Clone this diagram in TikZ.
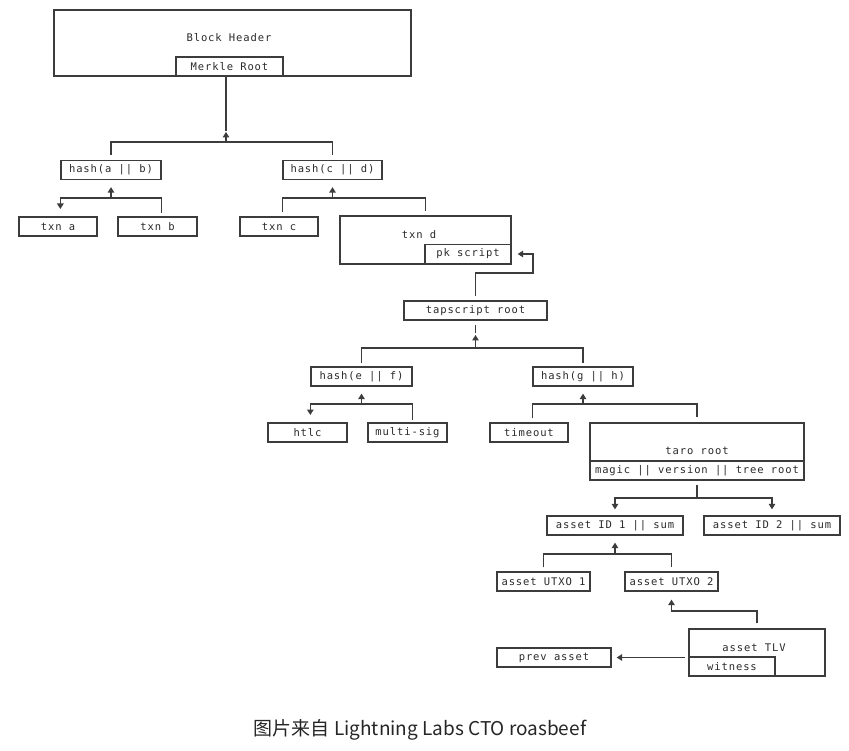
\documentclass[tikz,border=0pt]{standalone}
\usepackage{fontspec}
\usetikzlibrary{arrows.meta}
\newfontfamily\monofont[LetterSpace=8.5]{DejaVu Sans Mono}
\newfontfamily\cjkfont{Noto Sans CJK SC}
\definecolor{ink}{HTML}{2A2A2A}
\definecolor{wire}{HTML}{3C3C3C}
\tikzset{
  box/.style={draw=wire, line width=1.3pt, inner sep=0pt, minimum height=19pt,
    font=\fontsize{10.5}{12}\selectfont\monofont, text=ink},
  lbl/.style={inner sep=0pt, font=\fontsize{10.5}{12}\selectfont\monofont, text=ink},
  link/.style={draw=wire, line width=1.3pt},
  arr/.style={link, -{Triangle[width=6.5pt,length=5.5pt]}},
}
\begin{document}
\begin{tikzpicture}[x=1pt,y=-1pt]
  \fill[white] (0,0) rectangle (849,751);
  \useasboundingbox (0,0) rectangle (849,751);

  % boxes with a caption inside
  \node[box, minimum width=357pt, minimum height=66pt] (header) at (232.5,43) {};
  \node[lbl] (headerlbl) at (229,38) {Block Header};
  \node[box, minimum width=107pt] (merkle) at (229.5,66.5) {Merkle Root};
  \node[box, minimum width=171pt, minimum height=48pt] (txnd) at (425.5,240) {};
  \node[lbl] (txndlbl) at (419,235) {txn d};
  \node[box, minimum width=86pt] (pkscript) at (468,254) {pk script};
  \node[box, minimum width=214pt, minimum height=57pt] (taro) at (697,451.5) {};
  \node[lbl] (tarolbl) at (697,451) {taro root};
  \node[box, minimum width=214pt] (tarofields) at (697,470.5) {magic || version || tree root};
  \node[box, minimum width=136pt, minimum height=47pt] (tlv) at (757,652.5) {};
  \node[lbl] (tlvlbl) at (754,648) {asset TLV};
  \node[box, minimum width=86pt] (witness) at (732,666.5) {witness};

  % plain boxes
  \foreach \name/\x/\y/\w/\txt in {
    hashab/111/170/100/{hash(a || b)},
    hashcd/332.5/170/99/{hash(c || d)},
    txna/58/226.5/78/{txn a},
    txnb/157.5/226.5/79/{txn b},
    txnc/279/226.5/78/{txn c},
    tapscript/475.5/310.5/143/{tapscript root},
    hashef/361.5/376.5/101/{hash(e || f)},
    hashgh/583/376.5/100/{hash(g || h)},
    htlc/307.5/432.5/79/{htlc},
    multisig/407.5/432.5/79/{multi-sig},
    timeout/529/432.5/78/{timeout},
    assetidA/615/525.5/136/{asset ID 1 || sum},
    assetidB/772/525.5/136/{asset ID 2 || sum},
    utxoA/543.5/581.5/93/{asset UTXO 1},
    utxoB/671.5/581.5/93/{asset UTXO 2},
    prevasset/554/657.5/114/{prev asset}} {
    \node[box, minimum width=\w pt] (\name) at (\x,\y) {\txt};
  }

  % block merkle tree
  \coordinate (j1) at (226,142);
  \draw[link] (j1 |- merkle.south) -- ++(0,54);
  \draw[arr] (j1) -- ++(0,-10);
  \draw[link, shorten <=5pt, shorten >=5pt] (hashab.north) |- (j1) -| (hashcd.north);

  \coordinate (j2) at (111,198);
  \draw[arr, shorten >=7pt] (j2) -- (hashab.south);
  \draw[link] (j2 -| hashab.west) -- (j2 -| hashab.east) -- ++(0,15);
  \draw[arr] (j2 -| hashab.west) -- ++(0,11);

  \coordinate (j3) at (332.5,198);
  \draw[arr, shorten >=7pt] (j3) -- (hashcd.south);
  \draw[link, shorten <=4pt, shorten >=4pt] (txnc.north -| hashcd.west) |- (j3) -| (txnd.north);

  % tapscript tree
  \coordinate (j5) at (533,273);
  \draw[arr, shorten <=4pt, shorten >=6pt] (tapscript.north) |- (j5) |- (pkscript.east);

  \coordinate (j4) at (475.5,348);
  \draw[link] ([yshift=-4pt]tapscript.south) -- ++(0,8);
  \draw[arr] (j4) -- ++(0,-13);
  \draw[link, shorten <=3pt, shorten >=3pt] (hashef.north) |- (j4) -| (hashgh.north);

  \coordinate (j6) at (361.5,404);
  \draw[arr, shorten >=7pt] (j6) -- (hashef.south);
  \draw[link] (j6 -| hashef.west) -- (j6 -| hashef.east) -- ++(0,16);
  \draw[arr] (j6 -| hashef.west) -- ++(0,11);

  \coordinate (j7) at (583,404);
  \draw[arr, shorten >=7pt] (j7) -- (hashgh.south);
  \draw[link, shorten <=4pt, shorten >=5pt] (timeout.north -| hashgh.west) |- (j7) -| (taro.north);

  % taro tree
  \coordinate (j8) at (697,498);
  \draw[link] ([yshift=-4pt]taro.south) -- (j8);
  \draw[arr, shorten >=6pt] (j8) -| (assetidA.north);
  \draw[arr, shorten >=6pt] (j8) -| (assetidB.north);

  \coordinate (j9) at (615,554);
  \draw[arr, shorten >=7pt] (j9) -- (assetidA.south);
  \draw[link, shorten <=4pt, shorten >=4pt] (utxoA.north) |- (j9) -| (utxoB.north);

  \coordinate (j10) at (700,611);
  \draw[arr, shorten <=5pt, shorten >=8pt] (tlv.north) |- (j10) -| (utxoB.south);
  \draw[arr, shorten <=3pt, shorten >=5pt] (prevasset.east -| tlv.west) -- (prevasset.east);

  \node[font=\fontsize{19}{22}\selectfont\cjkfont, text=black!85] (caption) at (420,730)
    {图片来自 Lightning Labs CTO roasbeef};
\end{tikzpicture}
\end{document}
